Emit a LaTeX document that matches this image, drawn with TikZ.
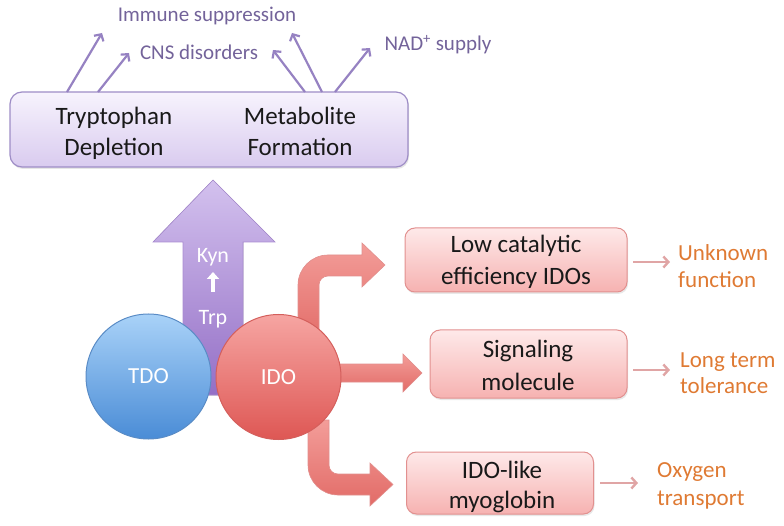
\documentclass[tikz,border=0pt]{standalone}
\usepackage{fontspec}
\setmainfont{Carlito}
\usetikzlibrary{arrows.meta,shadows}
\definecolor{lavtop}{HTML}{F7F3FD}
\definecolor{lavbot}{HTML}{D9CBEF}
\definecolor{lavdraw}{HTML}{9E8DC6}
\definecolor{labcol}{HTML}{73639A}
\definecolor{thinpur}{HTML}{9682C2}
\definecolor{bigtop}{HTML}{D3C1EE}
\definecolor{bigbot}{HTML}{946FC6}
\definecolor{bluetop}{HTML}{A9D2F8}
\definecolor{bluebot}{HTML}{4A8CD6}
\definecolor{bluedraw}{HTML}{5A8CC6}
\definecolor{redtop}{HTML}{F6A5A2}
\definecolor{redbot}{HTML}{DE5754}
\definecolor{reddraw}{HTML}{D45F5C}
\definecolor{arrtop}{HTML}{F39D99}
\definecolor{arrbot}{HTML}{E26B67}
\definecolor{pinktop}{HTML}{FEE9E9}
\definecolor{pinkbot}{HTML}{F6B2B1}
\definecolor{pinkdraw}{HTML}{E2908F}
\definecolor{pinkarr}{HTML}{E0A5A5}
\definecolor{orng}{HTML}{DF7A33}
\begin{document}
\begin{tikzpicture}[x=1pt,y=-1pt,
  maintxt/.style={font=\fontsize{25}{30}\selectfont, text=black!90, inner sep=0pt, anchor=base},
  lbltxt/.style={font=\fontsize{21}{25}\selectfont, text=labcol, inner sep=0pt, anchor=base},
  orgtxt/.style={font=\fontsize{23}{27}\selectfont, text=orng, inner sep=0pt, anchor=base west},
  whitetxt/.style={font=\fontsize{22}{26}\selectfont, text=white, inner sep=0pt, anchor=base},
  thinarr/.style={draw=thinpur, line width=2.2pt, -{Straight Barb[length=5pt,width=11pt]}},
  pinkarrow/.style={draw=pinkarr, line width=2.4pt, -{Straight Barb[length=5pt,width=11pt]}},
  pinkbox/.style={draw=pinkdraw, line width=1pt, rounded corners=10pt, top color=pinktop, bottom color=pinkbot,
     drop shadow={opacity=0.18, shadow xshift=1pt, shadow yshift=-2pt}},
  enzyme/.style={circle, minimum size=125pt, inner sep=0pt, line width=1pt, font=\fontsize{23}{27}\selectfont, text=white},
  bigarrow/.style={draw=reddraw!70, line width=0.6pt, top color=arrtop, bottom color=arrbot}
]
\useasboundingbox (0,0) rectangle (784,526);

% top box
\node[draw=lavdraw, line width=1.2pt, rounded corners=12pt, top color=lavtop, bottom color=lavbot,
  minimum width=398pt, minimum height=75pt, inner sep=0pt,
  drop shadow={opacity=0.2, shadow xshift=1pt, shadow yshift=-2pt}] (topbox) at (209,129.5) {};
\node[maintxt] (trypt) at (114,125) {Tryptophan};
\node[maintxt] (deplet) at (114,156) {Depletion};
\node[maintxt] (metab) at (300,125) {Metabolite};
\node[maintxt] (form) at (300,156) {Formation};

% labels above
\node[lbltxt] (immune) at (207,22) {Immune suppression};
\node[lbltxt] (cns) at (199,60) {CNS disorders};
\node[lbltxt] (nad) at (438,51) {NAD\textsuperscript{+} supply};

\coordinate (s1) at (67,92);  \coordinate (e1) at (102,33);
\coordinate (s2) at (98,92);  \coordinate (e2) at (129,53);
\coordinate (s3) at (305,92); \coordinate (e3) at (273,50);
\coordinate (s4) at (322,92); \coordinate (e4) at (292,33);
\coordinate (s5) at (335,92); \coordinate (e5) at (370,48);
\draw[thinarr] (s1) -- (e1);
\draw[thinarr] (s2) -- (e2);
\draw[thinarr] (s3) -- (e3);
\draw[thinarr] (s4) -- (e4);
\draw[thinarr] (s5) -- (e5);

% big purple arrow
\fill[top color=bigtop, bottom color=bigbot, draw=bigbot!80, line width=0.6pt]
  (183,395) -- (183,242) -- (153,242) -- (213,180) -- (275,242) -- (243,242) -- (243,395) -- cycle;
\node[whitetxt] (kyn) at (213,263) {Kyn};
\node[whitetxt] (trp) at (213,325) {Trp};
\coordinate (kup) at (213,272);
\coordinate (kdn) at (213,292);
\draw[white, line width=3.5pt, -{Triangle[length=7pt,width=12pt]}] (kdn) -- (kup);

% red bent arrows
\path[bigarrow]
  (298,345) -- (298,285) .. controls (298,268.5) and (311.5,255) .. (328,255) -- (362,255) -- (362,243)
  -- (385,265) -- (362,287) -- (362,276) -- (328,276) .. controls (323,276) and (319,280) .. (319,285) -- (319,345) -- cycle;
\path[bigarrow]
  (330,364) -- (403,364) -- (403,354) -- (422,373) -- (403,392) -- (403,382) -- (330,382) -- cycle;
\path[bigarrow]
  (308,420) -- (308,465) .. controls (308,481.5) and (321.5,495) .. (338,495) -- (370,495) -- (370,506)
  -- (393,484.5) -- (370,463) -- (370,474) -- (338,474) .. controls (333,474) and (329,470) .. (329,465) -- (329,420) -- cycle;

% circles
\node[enzyme, draw=bluedraw, top color=bluetop, bottom color=bluebot] (tdo) at (148.5,376.5) {TDO};
\node[enzyme, draw=reddraw, top color=redtop, bottom color=redbot] (ido) at (278.5,377) {IDO};

% right boxes
\node[pinkbox, minimum width=222pt, minimum height=64pt, inner sep=0pt] (box1) at (516,260) {};
\node[maintxt] (b1a) at (516,253) {Low catalytic};
\node[maintxt] (b1b) at (516,285) {efficiency IDOs};

\node[pinkbox, minimum width=197pt, minimum height=68pt, inner sep=0pt] (box2) at (528.5,364) {};
\node[maintxt] (b2a) at (528,358) {Signaling};
\node[maintxt] (b2b) at (528,390) {molecule};

\node[pinkbox, minimum width=187pt, minimum height=62pt, inner sep=0pt] (box3) at (500,483) {};
\node[maintxt] (b3a) at (502,478) {IDO-like};
\node[maintxt] (b3b) at (502,508) {myoglobin};

% outcome labels
\node[orgtxt] (o1a) at (678,261) {Unknown};
\node[orgtxt] (o1b) at (678,288) {function};
\node[orgtxt] (o2a) at (680,367) {Long term};
\node[orgtxt] (o2b) at (680,393) {tolerance};
\node[orgtxt] (o3a) at (657,477) {Oxygen};
\node[orgtxt] (o3b) at (657,505) {transport};

\coordinate (p1s) at (633,262); \coordinate (p1e) at (670,262);
\coordinate (p2s) at (633,370); \coordinate (p2e) at (670,370);
\coordinate (p3s) at (600,483); \coordinate (p3e) at (638,483);
\draw[pinkarrow] (p1s) -- (p1e);
\draw[pinkarrow] (p2s) -- (p2e);
\draw[pinkarrow] (p3s) -- (p3e);
\end{tikzpicture}
\end{document}
